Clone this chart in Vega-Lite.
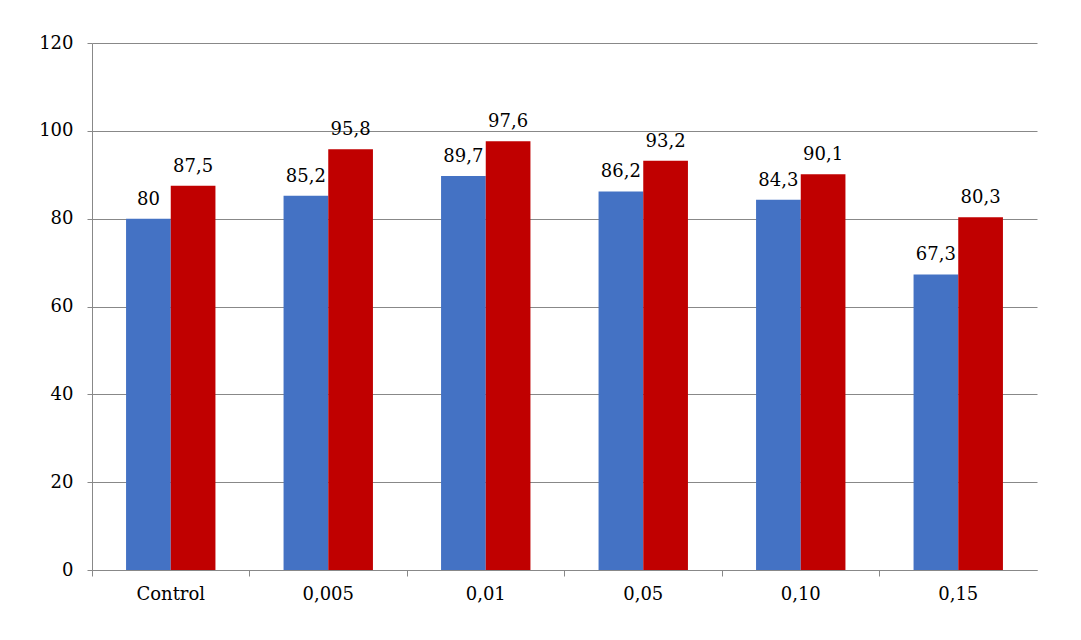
{
  "$schema": "https://vega.github.io/schema/vega-lite/v6.json",
  "width": 945,
  "height": 527,
  "autosize": {"type": "none"},
  "padding": {"left": 92, "top": 43, "right": 44, "bottom": 70},
  "background": "white",
  "config": {
    "view": {"stroke": null},
    "font": "DejaVu Serif",
    "locale": {"number": {"decimal": ",", "thousands": ".", "grouping": [3], "currency": ["", ""]}}
  },
  "data": {
    "values": [
      {"concentration": "Control", "series": "A", "value": 80},
      {"concentration": "Control", "series": "B", "value": 87.5},
      {"concentration": "0,005", "series": "A", "value": 85.2},
      {"concentration": "0,005", "series": "B", "value": 95.8},
      {"concentration": "0,01", "series": "A", "value": 89.7},
      {"concentration": "0,01", "series": "B", "value": 97.6},
      {"concentration": "0,05", "series": "A", "value": 86.2},
      {"concentration": "0,05", "series": "B", "value": 93.2},
      {"concentration": "0,10", "series": "A", "value": 84.3},
      {"concentration": "0,10", "series": "B", "value": 90.1},
      {"concentration": "0,15", "series": "A", "value": 67.3},
      {"concentration": "0,15", "series": "B", "value": 80.3}
    ]
  },
  "encoding": {
    "x": {
      "field": "concentration",
      "type": "nominal",
      "sort": null,
      "scale": {"paddingInner": 0, "paddingOuter": 0},
      "axis": {
        "title": null,
        "labelAngle": 0,
        "labelFont": "DejaVu Serif",
        "labelFontSize": 18,
        "labelColor": "black",
        "labelPadding": 9,
        "bandPosition": 0,
        "tickSize": 6,
        "tickColor": "#888888",
        "domainColor": "#888888",
        "grid": false
      }
    },
    "xOffset": {
      "field": "series",
      "type": "nominal",
      "scale": {"paddingInner": 0, "paddingOuter": 0.762}
    },
    "y": {
      "field": "value",
      "type": "quantitative",
      "scale": {"domain": [0, 120]},
      "axis": {
        "title": null,
        "values": [0, 20, 40, 60, 80, 100, 120],
        "labelFont": "DejaVu Serif",
        "labelFontSize": 18,
        "labelColor": "black",
        "labelPadding": 14,
        "tickSize": 5,
        "tickColor": "#888888",
        "domainColor": "#888888",
        "gridColor": "#888888",
        "gridOpacity": 1
      }
    }
  },
  "layer": [
    {
      "mark": {"type": "bar"},
      "encoding": {
        "color": {
          "field": "series",
          "type": "nominal",
          "scale": {"domain": ["A", "B"], "range": ["#4472C4", "#C00000"]},
          "legend": null
        }
      }
    },
    {
      "mark": {"type": "text", "baseline": "alphabetic", "dy": -14, "fontSize": 18, "font": "DejaVu Serif", "color": "black"},
      "encoding": {
        "text": {"field": "value", "type": "quantitative", "format": "~g"}
      }
    }
  ]
}
